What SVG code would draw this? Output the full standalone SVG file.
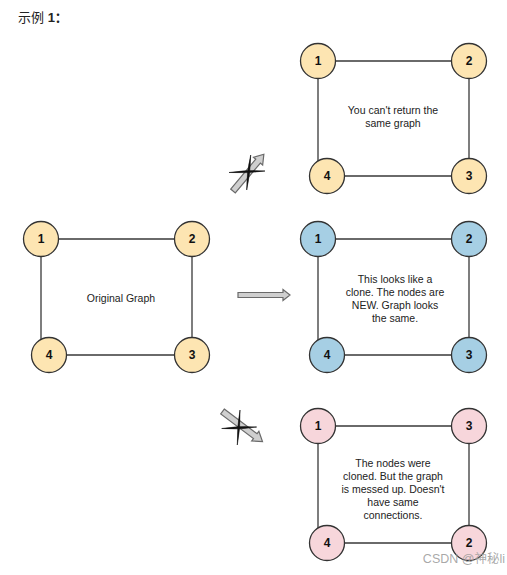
<svg xmlns="http://www.w3.org/2000/svg" width="507" height="575" viewBox="0 0 507 575">
<style>
.e{stroke:#3a3a3a;stroke-width:1.3;fill:none}
.n{stroke:#333;stroke-width:1.3}
.y{fill:#fde5b2}
.b{fill:#a6cfe4}
.p{fill:#f7d6db}
.l{font-family:"Liberation Sans",Arial,sans-serif;font-size:12px;font-weight:bold;fill:#111;text-anchor:middle;dominant-baseline:central}
.t{font-family:"Liberation Sans",Arial,sans-serif;font-size:10.5px;fill:#222;text-anchor:middle}
.ar{fill:#cfcfcf;stroke:#6a6a6a;stroke-width:1.2}
.x{fill:#111;stroke:#111;stroke-width:0.6;stroke-linejoin:round}
</style>
<rect width="507" height="575" fill="#fff"/>
<text x="18" y="22" font-family="'Liberation Sans','Noto Sans CJK SC',sans-serif" font-size="13" fill="#222">示例 <tspan font-weight="bold">1：</tspan></text>
<g id="connectors">
<path class="e" d="M41 239H192M41 239V355M49 355H192M192 239V355"/>
<path class="e" d="M318 61H469M318 61V176M327 176H469M469 61V176"/>
<path class="e" d="M318 239H469M318 239V355M327 355H469M469 239V355"/>
<path class="e" d="M318 426H469M318 426V543M327 543H469M469 426V543"/>
<polygon class="ar" points="238,292.5 283,292.5 283,289.5 290,295 283,300.5 283,297.5 238,297.5"/>
<polygon class="ar" transform="translate(233,191) rotate(-50)" points="0,-3 39,-3 39,-6 48,0 39,6 39,3 0,3"/>
<path class="x" d="M229 172.5Q247 169.5 265 171Q247 173.5 229 172.5Z"/>
<path class="x" d="M250.7 155Q250.5 173 246.7 190Q246.5 172 250.7 155Z"/>
<polygon class="ar" transform="translate(222.5,411.5) rotate(36.9)" points="0,-3 41,-3 41,-6 50,0 41,6 41,3 0,3"/>
<path class="x" d="M221.7 428.5Q239 425.5 256.7 427Q239 430 221.7 428.5Z"/>
<path class="x" d="M240 410Q240.5 428 237.3 445Q237 427 240 410Z"/>
</g>
<g id="g1">
<g id="o1"><circle class="n y" cx="41" cy="239" r="17.5"/><text class="l" x="41" y="239">1</text></g>
<g id="o2"><circle class="n y" cx="192" cy="239" r="17.5"/><text class="l" x="192" y="239">2</text></g>
<g id="o3"><circle class="n y" cx="192" cy="355" r="17.5"/><text class="l" x="192" y="355">3</text></g>
<g id="o4"><circle class="n y" cx="49" cy="355" r="17.5"/><text class="l" x="49" y="355">4</text></g>
<text class="t" x="121" y="302">Original Graph</text>
</g>
<g id="g2">
<g id="a1"><circle class="n y" cx="318" cy="61" r="17.5"/><text class="l" x="318" y="61">1</text></g>
<g id="a2"><circle class="n y" cx="469" cy="61" r="17.5"/><text class="l" x="469" y="61">2</text></g>
<g id="a3"><circle class="n y" cx="469" cy="176" r="17.5"/><text class="l" x="469" y="176">3</text></g>
<g id="a4"><circle class="n y" cx="327" cy="176" r="17.5"/><text class="l" x="327" y="176">4</text></g>
<text class="t" x="393" y="114">You can't return the</text>
<text class="t" x="393" y="127">same graph</text>
</g>
<g id="g3">
<g id="b1"><circle class="n b" cx="318" cy="239" r="17.5"/><text class="l" x="318" y="239">1</text></g>
<g id="b2"><circle class="n b" cx="469" cy="239" r="17.5"/><text class="l" x="469" y="239">2</text></g>
<g id="b3"><circle class="n b" cx="469" cy="355" r="17.5"/><text class="l" x="469" y="355">3</text></g>
<g id="b4"><circle class="n b" cx="327" cy="355" r="17.5"/><text class="l" x="327" y="355">4</text></g>
<text class="t" x="395" y="283">This looks like a</text>
<text class="t" x="395" y="296">clone. The nodes are</text>
<text class="t" x="395" y="309">NEW. Graph looks</text>
<text class="t" x="395" y="322">the same.</text>
</g>
<g id="g4">
<g id="c1"><circle class="n p" cx="318" cy="426" r="17.5"/><text class="l" x="318" y="426">1</text></g>
<g id="c3"><circle class="n p" cx="469" cy="426" r="17.5"/><text class="l" x="469" y="426">3</text></g>
<g id="c2"><circle class="n p" cx="469" cy="543" r="17.5"/><text class="l" x="469" y="543">2</text></g>
<g id="c4"><circle class="n p" cx="327" cy="543" r="17.5"/><text class="l" x="327" y="543">4</text></g>
<text class="t" x="393" y="467">The nodes were</text>
<text class="t" x="393" y="480">cloned. But the graph</text>
<text class="t" x="393" y="493">is messed up. Doesn't</text>
<text class="t" x="393" y="506">have same</text>
<text class="t" x="393" y="519">connections.</text>
</g>
<text x="505" y="563" text-anchor="end" font-family="'Liberation Sans','Noto Sans CJK SC',sans-serif" font-size="12.5" fill="#999" fill-opacity="0.85">CSDN @神秘li</text>
</svg>
